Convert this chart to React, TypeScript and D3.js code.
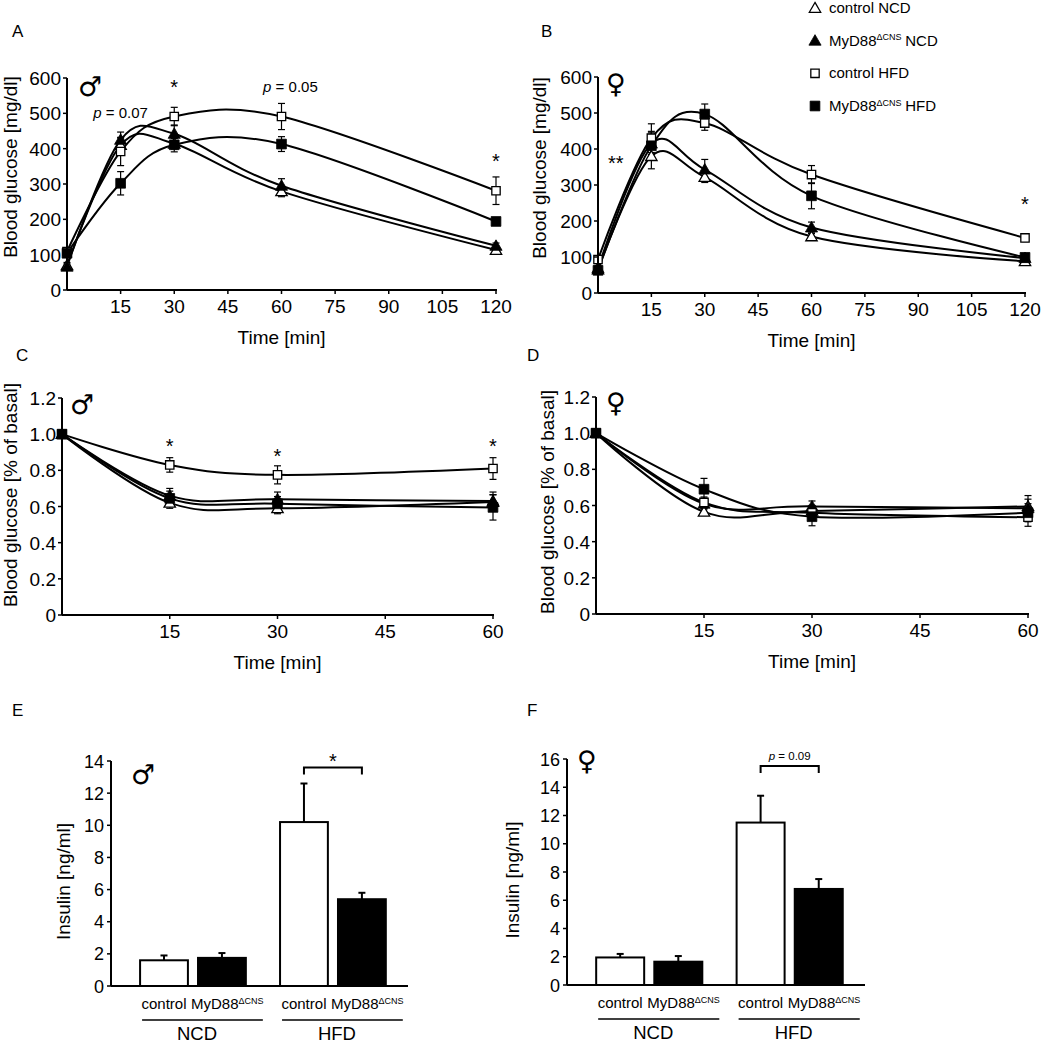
import * as d3 from 'd3'

// glucose tolerance (mg/dl) and insulin tolerance (fraction of basal)
const GTT_TIMES = [0, 15, 30, 60, 120]
const ITT_TIMES = [0, 15, 30, 60]
const SERIES = ['control NCD', 'MyD88ΔCNS NCD', 'control HFD', 'MyD88ΔCNS HFD']

const A_CTRL_NCD = [70, 410, 414, 279, 113]
const A_KO_NCD = [66, 425, 442, 295, 125]
const A_CTRL_HFD = [109, 392, 491, 491, 281]
const A_KO_HFD = [104, 302, 411, 413, 194]
const A_ERR = [[8, 20, 15, 15, 8], [8, 22, 25, 20, 8], [10, 40, 26, 37, 39], [8, 33, 20, 21, 8]]

const B_CTRL_NCD = [65, 380, 322, 157, 88]
const B_KO_NCD = [69, 415, 343, 182, 97]
const B_CTRL_HFD = [93, 430, 472, 329, 153]
const B_KO_HFD = [63, 409, 497, 270, 99]
const B_ERR = [[8, 35, 15, 8, 8], [8, 30, 28, 15, 8], [8, 40, 20, 25, 10], [8, 40, 28, 36, 8]]

const C_CTRL_NCD = [1, 0.62, 0.59, 0.625]
const C_KO_NCD = [1, 0.66, 0.64, 0.63]
const C_CTRL_HFD = [1, 0.83, 0.775, 0.81]
const C_KO_HFD = [1, 0.645, 0.615, 0.595]
const C_ERR = [[0, 0.03, 0.03, 0.04], [0, 0.04, 0.04, 0.05], [0, 0.04, 0.05, 0.06], [0, 0.04, 0.04, 0.07]]

const D_CTRL_NCD = [1, 0.565, 0.57, 0.595]
const D_KO_NCD = [1, 0.61, 0.595, 0.585]
const D_CTRL_HFD = [1, 0.617, 0.56, 0.535]
const D_KO_HFD = [1, 0.69, 0.538, 0.56]
const D_ERR = [[0, 0.02, 0.03, 0.06], [0, 0.03, 0.03, 0.05], [0, 0.03, 0.04, 0.05], [0, 0.06, 0.05, 0.05]]

const GTT_X_TICKS = [15, 30, 45, 60, 75, 90, 105, 120]
const ITT_X_TICKS = [15, 30, 45, 60]
const GTT_Y_TICKS = [0, 100, 200, 300, 400, 500, 600]
const ITT_Y_TICKS = [0, 0.2, 0.4, 0.6, 0.8, 1.0, 1.2]

// insulin, bars: control NCD, MyD88 NCD, control HFD, MyD88 HFD
const DIETS = ['NCD', 'HFD']
const GENOTYPES = ['control', 'ko']
const INS_M = [1.6, 1.75, 10.2, 5.4]
const INS_M_ERR = [0.3, 0.3, 2.4, 0.4]
const INS_F = [1.95, 1.65, 11.5, 6.8]
const INS_F_ERR = [0.25, 0.4, 1.9, 0.7]
const INS_M_TICKS = [0, 2, 4, 6, 8, 10, 12, 14]
const INS_F_TICKS = [0, 2, 4, 6, 8, 10, 12, 14, 16]

const FONT = 'Liberation Sans, Arial, Helvetica, sans-serif'

function Marker({ kind, x, y }: { kind: number; x: number; y: number }) {
  const tri = kind < 2
  const filled = kind % 2 === 1
  const p = d3.symbol().type(tri ? d3.symbolTriangle : d3.symbolSquare).size(tri ? (filled ? 64 : 56) : (filled ? 95 : 70))()
  return <path d={p as string} transform={`translate(${x},${y + (tri ? 1 : 0)})`}
    fill={filled ? '#000' : '#fff'} stroke="#000" strokeWidth={filled ? 0.8 : 1.3} />
}

function Sup({ base, sup, tail, size }: { base: string; sup: string; tail?: string; size: number }) {
  return <>
    <tspan>{base}</tspan>
    <tspan fontSize={size * 0.6} dy={-size * 0.35}>{sup}</tspan>
    {tail ? <tspan dy={size * 0.35} dx={size * 0.25}>{tail}</tspan> : null}
  </>
}

type Note = { x: number; y: number; text: string; italicP?: boolean; size?: number }

function LinePanel(props: {
  x0: number; x1: number; yTop: number; yBot: number; xMax: number; yMax: number
  times: number[]; series: number[][]; errs: number[][]
  xTicks: number[]; yTicks: number[]; fmt: (v: number) => string
  yLabel: string; yLabelX: number; yLabelY: number; sex: string; sexX: number; sexY: number; notes: Note[]
}) {
  const { x0, x1, yTop, yBot, xMax, yMax, times, series, errs, xTicks, yTicks, fmt } = props
  const x = d3.scaleLinear().domain([0, xMax]).range([x0, x1])
  const y = d3.scaleLinear().domain([0, yMax]).range([yBot, yTop])
  const line = d3.line<number>().x((_, i) => x(times[i])).y(v => y(v)).curve(d3.curveCatmullRom.alpha(0))
  return (
    <g fontFamily={FONT}>
      {series.map((s, k) => s.map((v, i) => errs[k][i] > 0 ? (
        <g key={`e${k}${i}`} stroke="#000" strokeWidth={1.2}>
          <line x1={x(times[i])} x2={x(times[i])} y1={y(v - errs[k][i])} y2={y(v + errs[k][i])} />
          <line x1={x(times[i]) - 3.5} x2={x(times[i]) + 3.5} y1={y(v + errs[k][i])} y2={y(v + errs[k][i])} />
          <line x1={x(times[i]) - 3.5} x2={x(times[i]) + 3.5} y1={y(v - errs[k][i])} y2={y(v - errs[k][i])} />
        </g>) : null))}
      {series.map((s, k) => <path key={`l${k}`} d={line(s) as string} fill="none" stroke="#000" strokeWidth={2} />)}
      {series.map((s, k) => s.map((v, i) => <Marker key={`m${k}${i}`} kind={k} x={x(times[i])} y={y(v)} />))}
      <line x1={x0} x2={x0} y1={yTop} y2={yBot} stroke="#000" strokeWidth={2} />
      <line x1={x0} x2={x1 + 1} y1={yBot} y2={yBot} stroke="#000" strokeWidth={2} />
      {yTicks.map(t => <g key={`yt${t}`}>
        <line x1={x0 - 4} x2={x0} y1={y(t)} y2={y(t)} stroke="#000" strokeWidth={1.5} />
        <text x={x0 - 6} y={y(t) + 7} textAnchor="end" fontSize={19}>{fmt(t)}</text>
      </g>)}
      {xTicks.map(t => <g key={`xt${t}`}>
        <line x1={x(t)} x2={x(t)} y1={yBot} y2={yBot + 4} stroke="#000" strokeWidth={1.5} />
        <text x={x(t)} y={yBot + 23} textAnchor="middle" fontSize={19}>{t}</text>
      </g>)}
      <text x={(x0 + x1) / 2} y={yBot + 54} textAnchor="middle" fontSize={19}>Time [min]</text>
      <text transform={`translate(${props.yLabelX},${props.yLabelY}) rotate(-90)`} y={7} textAnchor="middle" fontSize={19}>{props.yLabel}</text>
      <text x={props.sexX} y={props.sexY} textAnchor="middle" fontSize={27} fontFamily="DejaVu Sans">{props.sex}</text>
      {props.notes.map((n, i) => n.italicP
        ? <text key={`n${i}`} x={x(n.x)} y={y(n.y) + 5} textAnchor="middle" fontSize={n.size || 15}>
            <tspan fontStyle="italic">p</tspan> = {n.text}</text>
        : <text key={`n${i}`} x={x(n.x)} y={y(n.y) + 11} textAnchor="middle" fontSize={20}>{n.text}</text>)}
    </g>
  )
}

function BarPanel(props: {
  x0: number; x1: number; yTop: number; yBot: number; yMax: number
  values: number[]; errs: number[]; ticks: number[]; yLabelX: number
  sex: string; sexX: number; sexY: number; bracketY: number; bracketText: string; pValue: boolean
}) {
  const { x0, x1, yTop, yBot, yMax, values, errs } = props
  const y = d3.scaleLinear().domain([0, yMax]).range([yBot, yTop])
  const gx = d3.scaleBand().domain(DIETS).range([x0, x1]).paddingInner(0.23).paddingOuter(0.176).align(0.57)
  const bx = d3.scaleBand().domain(GENOTYPES).range([0, gx.bandwidth()]).paddingInner(0.14)
  const bars = DIETS.flatMap((d, gi) => GENOTYPES.map((g, bi) => ({ d, g, v: values[gi * 2 + bi], e: errs[gi * 2 + bi] })))
  const cx = (d: string, g: string) => (gx(d) as number) + (bx(g) as number) + bx.bandwidth() / 2
  const bw = bx.bandwidth()
  const by = y(props.bracketY)
  const c1 = cx('HFD', 'control'), c2 = cx('HFD', 'ko')
  return (
    <g fontFamily={FONT}>
      {bars.map((b, i) => <g key={i}>
        <line x1={cx(b.d, b.g)} x2={cx(b.d, b.g)} y1={y(b.v)} y2={y(b.v + b.e)} stroke="#000" strokeWidth={2} />
        <line x1={cx(b.d, b.g) - 3.5} x2={cx(b.d, b.g) + 3.5} y1={y(b.v + b.e)} y2={y(b.v + b.e)} stroke="#000" strokeWidth={2} />
        <rect x={(gx(b.d) as number) + (bx(b.g) as number) + 1} y={y(b.v)} width={bw - 2} height={yBot - y(b.v)}
          fill={b.g === 'ko' ? '#000' : '#fff'} stroke="#000" strokeWidth={2} />
      </g>)}
      <line x1={x0} x2={x0} y1={yTop} y2={yBot} stroke="#000" strokeWidth={2} />
      <line x1={x0} x2={x1} y1={yBot} y2={yBot} stroke="#000" strokeWidth={2} />
      {props.ticks.map(t => <g key={t}>
        <line x1={x0 - 4} x2={x0} y1={y(t)} y2={y(t)} stroke="#000" strokeWidth={1.5} />
        <text x={x0 - 7} y={y(t) + 6.5} textAnchor="end" fontSize={18}>{t}</text>
      </g>)}
      <text transform={`translate(${props.yLabelX},${(yTop + yBot) / 2 + 8}) rotate(-90)`} y={7} textAnchor="middle" fontSize={19}>Insulin [ng/ml]</text>
      <text x={props.sexX} y={props.sexY} textAnchor="middle" fontSize={27} fontFamily="DejaVu Sans">{props.sex}</text>
      {DIETS.map(d => {
        const g0 = gx(d) as number
        return <g key={d}>
          <text x={cx(d, 'control')} y={yBot + 23} textAnchor="middle" fontSize={15}>control</text>
          <text x={cx(d, 'ko') - bw / 2 - 6} y={yBot + 23} fontSize={15}><Sup base="MyD88" sup="ΔCNS" size={15} /></text>
          <line x1={g0 + 3} x2={g0 + gx.bandwidth() + 16} y1={yBot + 34} y2={yBot + 34} stroke="#000" strokeWidth={1.5} />
          <text x={g0 + gx.bandwidth() / 2 + 4} y={yBot + 54} textAnchor="middle" fontSize={18.5}>{d}</text>
        </g>
      })}
      <path d={`M${c1},${by + 7}V${by}H${c2}V${by + 7}`} fill="none" stroke="#000" strokeWidth={2} />
      {props.pValue
        ? <text x={(c1 + c2) / 2} y={by - 6} textAnchor="middle" fontSize={11.5}><tspan fontStyle="italic">p</tspan> = {props.bracketText}</text>
        : <text x={(c1 + c2) / 2} y={by + 1} textAnchor="middle" fontSize={20}>{props.bracketText}</text>}
    </g>
  )
}

export default function App() {
  const legendY = d3.scalePoint().domain(SERIES).range([8, 106])
  return (
    <svg width={1050} height={1045} style={{ position: 'absolute', left: 0, top: 0, background: '#fff' }}>
      <g fontFamily={FONT} fontSize={17}>
        <text x={12} y={37}>A</text>
        <text x={541} y={37}>B</text>
        <text x={16} y={361}>C</text>
        <text x={527} y={361}>D</text>
        <text x={12} y={716}>E</text>
        <text x={527} y={716}>F</text>
      </g>
      <g fontFamily={FONT} fontSize={15}>
        {SERIES.map((s, k) => <g key={s}>
          <Marker kind={k} x={815} y={legendY(s) as number} />
          <text x={829} y={(legendY(s) as number) + 5}>
            {s.startsWith('MyD88') ? <Sup base="MyD88" sup="ΔCNS" tail={s.split(' ')[1]} size={15} /> : s}
          </text>
        </g>)}
      </g>
      <LinePanel x0={67} x1={496} yTop={78} yBot={290} xMax={120} yMax={600} times={GTT_TIMES}
        series={[A_CTRL_NCD, A_KO_NCD, A_CTRL_HFD, A_KO_HFD]} errs={A_ERR}
        xTicks={GTT_X_TICKS} yTicks={GTT_Y_TICKS} fmt={v => String(v)}
        yLabel="Blood glucose [mg/dl]" yLabelX={10} yLabelY={167} sex="♂" sexX={90} sexY={96}
        notes={[{ x: 30, y: 586, text: '*' }, { x: 120, y: 376, text: '*' },
          { x: 15, y: 500, text: '0.07', italicP: true }, { x: 62.5, y: 575, text: '0.05', italicP: true }]} />
      <LinePanel x0={598} x1={1025} yTop={77} yBot={293} xMax={120} yMax={600} times={GTT_TIMES}
        series={[B_CTRL_NCD, B_KO_NCD, B_CTRL_HFD, B_KO_HFD]} errs={B_ERR}
        xTicks={GTT_X_TICKS} yTicks={GTT_Y_TICKS} fmt={v => String(v)}
        yLabel="Blood glucose [mg/dl]" yLabelX={539} yLabelY={168} sex="♀" sexX={616} sexY={93}
        notes={[{ x: 5, y: 372, text: '**' }, { x: 120, y: 258, text: '*' }]} />
      <LinePanel x0={62} x1={493} yTop={398} yBot={615} xMax={60} yMax={1.2} times={ITT_TIMES}
        series={[C_CTRL_NCD, C_KO_NCD, C_CTRL_HFD, C_KO_HFD]} errs={C_ERR}
        xTicks={ITT_X_TICKS} yTicks={ITT_Y_TICKS} fmt={v => v === 0 ? '0' : v.toFixed(1)}
        yLabel="Blood glucose [% of basal]" yLabelX={10} yLabelY={495} sex="♂" sexX={82} sexY={414}
        notes={[{ x: 15, y: 0.957, text: '*' }, { x: 30, y: 0.9, text: '*' }, { x: 60, y: 0.957, text: '*' }]} />
      <LinePanel x0={596} x1={1028} yTop={397} yBot={614} xMax={60} yMax={1.2} times={ITT_TIMES}
        series={[D_CTRL_NCD, D_KO_NCD, D_CTRL_HFD, D_KO_HFD]} errs={D_ERR}
        xTicks={ITT_X_TICKS} yTicks={ITT_Y_TICKS} fmt={v => v === 0 ? '0' : v.toFixed(1)}
        yLabel="Blood glucose [% of basal]" yLabelX={547} yLabelY={502} sex="♀" sexX={616} sexY={412} notes={[]} />
      <BarPanel x0={111} x1={408} yTop={761} yBot={986} yMax={14} values={INS_M} errs={INS_M_ERR}
        ticks={INS_M_TICKS} yLabelX={63} sex="♂" sexX={143} sexY={784} bracketY={13.6} bracketText="*" pValue={false} />
      <BarPanel x0={567} x1={865} yTop={759} yBot={985} yMax={16} values={INS_F} errs={INS_F_ERR}
        ticks={INS_F_TICKS} yLabelX={512} sex="♀" sexX={587} sexY={770} bracketY={15.5} bracketText="0.09" pValue={true} />
    </svg>
  )
}
